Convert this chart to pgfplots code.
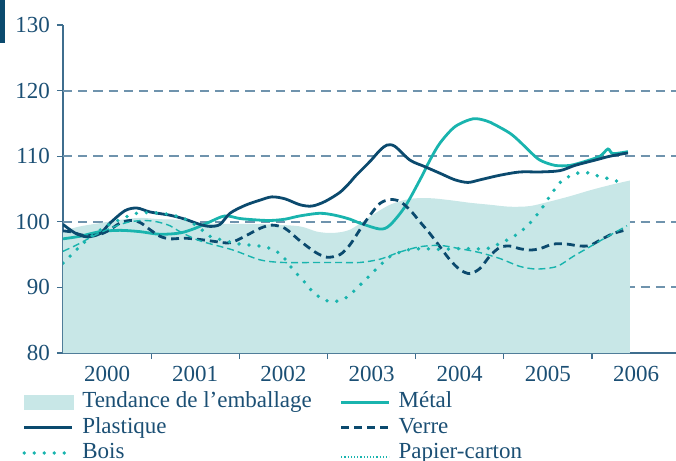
\documentclass[border=0pt]{standalone}
\usepackage{fontspec}
\setmainfont{Liberation Serif}
\usepackage{pgfplots}
\pgfplotsset{compat=1.18}
\definecolor{navy}{HTML}{0B4A6E}
\definecolor{teal2}{HTML}{19B4AE}
\definecolor{fillc}{HTML}{C8E7E7}
\definecolor{gridc}{HTML}{6F93AD}
\definecolor{axisc}{HTML}{3F6E8E}
\definecolor{textc}{HTML}{1B4F74}
\begin{document}
\begin{tikzpicture}
\path[use as bounding box] (-31.5pt,-54pt) rectangle (306.5pt,176.5pt);
\fill[navy] (-31.5pt,176.5pt) rectangle (-29pt,155pt);
\begin{axis}[
  at={(0,0)}, anchor=south west, scale only axis,
  width=306.5pt, height=164pt,
  xmin=0, xmax=6.953, ymin=80, ymax=130,
  axis x line=bottom, axis y line=left,
  axis line style={axisc, line width=0.6pt, -},
  tick align=outside,
  xtick={0.5,1.5,...,6.5}, xticklabels={2000,2001,2002,2003,2004,2005,2006},
  major x tick style={draw=none},
  minor xtick={1,2,3,4,5,6},
  minor tick length=3pt,
  minor x tick style={axisc, line width=0.6pt},
  ytick={80,90,...,130},
  major tick length=3pt,
  y tick style={axisc, line width=0.6pt},
  extra y ticks={90,100,110,120},
  extra y tick labels={},
  extra y tick style={grid=major, major tick length=0pt},
  major grid style={gridc, line width=1pt, dash pattern=on 4.6pt off 3pt},
  tick label style={font=\fontsize{11.5}{13}\selectfont, text=textc},
  /pgf/number format/assume math mode=true,
  legend columns=2,
  legend cell align=left,
  legend style={at={(-0.0669,-0.11)}, anchor=north west, draw=none, fill=none,
    inner sep=0pt, font=\fontsize{11.5}{13}\selectfont, text=textc,
    nodes={inner xsep=4pt, inner ysep=1.1pt, text height=8pt, text depth=2.5pt},
    /tikz/every even column/.append style={column sep=10pt}},
  legend image code/.code={\draw[#1] (0pt,0pt) -- (24pt,0pt);},
]
% Tendance de l'emballage (area)
\addplot[fill=fillc, draw=none, smooth,
  legend image code/.code={\fill[fillc] (0pt,-3.75pt) rectangle (25pt,3.75pt);}]
coordinates {
(0,98.6) (0.193,99.3) (0.420,99.8) (0.646,100.3) (0.873,100.6) (1.100,100.4)
(1.327,100.3) (1.554,99.8) (1.781,99.7) (2.007,99.7) (2.348,99.6) (2.688,99.3)
(2.881,98.5) (3.062,98.3) (3.255,98.8) (3.482,100.8) (3.709,102.6) (3.936,103.5)
(4.162,103.6) (4.389,103.3) (4.616,102.9) (4.843,102.6) (5.070,102.3) (5.297,102.4)
(5.523,103.1) (5.750,103.9) (5.977,104.8) (6.204,105.6) (6.431,106.3)} \closedcycle;
\addlegendentry{Tendance de l’emballage}
% Metal
\addplot[teal2, line width=1.4pt, smooth] coordinates {
(0,97.4) (0.193,97.8) (0.420,98.5) (0.646,98.7) (0.873,98.5) (1.100,98.1)
(1.327,98.3) (1.497,99.0) (1.667,100.0) (1.837,100.9) (2.007,100.5) (2.178,100.3)
(2.348,100.2) (2.518,100.4) (2.688,100.9) (2.915,101.3) (3.085,101.0) (3.255,100.4)
(3.368,99.8) (3.595,98.9) (3.709,99.5) (3.879,102.3) (4.049,106.4) (4.162,109.4)
(4.276,112.0) (4.446,114.5) (4.650,115.7) (4.800,115.4) (4.900,114.8) (5.070,113.5)
(5.183,112.2) (5.297,110.7) (5.410,109.4) (5.580,108.6) (5.750,108.6) (5.920,109.2)
(6.091,110.0) (6.181,111.1) (6.238,110.4) (6.408,110.7)};
\addlegendentry{Métal}
% Plastique
\addplot[navy, line width=1.4pt, smooth] coordinates {
(0,99.6) (0.136,98.3) (0.272,97.7) (0.420,98.2) (0.533,99.8) (0.703,101.7) (0.839,102.1)
(0.987,101.5) (1.214,101.0) (1.384,100.4) (1.554,99.6) (1.667,99.3) (1.781,99.6)
(1.894,101.3) (2.064,102.5) (2.234,103.3) (2.370,103.8) (2.518,103.5) (2.688,102.6)
(2.824,102.4) (2.972,103.1) (3.142,104.5) (3.255,106.0) (3.312,106.9) (3.482,109.2)
(3.595,110.9) (3.675,111.7) (3.765,111.5) (3.936,109.4) (4.106,108.4) (4.276,107.4)
(4.446,106.4) (4.593,106.0) (4.730,106.4) (4.956,107.1) (5.183,107.6) (5.410,107.6)
(5.637,107.8) (5.807,108.6) (6.034,109.4) (6.204,110.0) (6.408,110.5)};
\addlegendentry{Plastique}
% Verre
\addplot[navy, line width=1.4pt, dash pattern=on 4pt off 2.5pt, smooth] coordinates {
(0,98.6) (0.079,98.5) (0.250,97.9) (0.420,98.1) (0.533,98.8) (0.646,99.8) (0.760,100.2)
(0.873,99.9) (0.987,98.8) (1.100,97.8) (1.214,97.4) (1.384,97.5) (1.554,97.3)
(1.724,97.0) (1.894,96.8) (2.064,97.8) (2.234,99.0) (2.370,99.5) (2.518,99.0)
(2.688,97.1) (2.858,95.4) (2.994,94.6) (3.142,95.0) (3.255,96.5) (3.368,98.8)
(3.482,101.0) (3.595,102.8) (3.709,103.4) (3.822,103.1) (3.936,101.8) (4.049,100.0)
(4.162,98.2) (4.276,96.2) (4.389,94.2) (4.503,92.7) (4.616,92.1) (4.730,92.9)
(4.843,94.8) (4.956,96.1) (5.070,96.3) (5.183,95.9) (5.297,95.7) (5.410,95.9)
(5.557,96.6) (5.716,96.6) (5.864,96.3) (5.977,96.4) (6.091,97.2) (6.238,98.2) (6.397,98.8)};
\addlegendentry{Verre}
% Bois
\addplot[teal2, line width=1.9pt, line cap=round, dash pattern=on 0pt off 5pt, smooth] coordinates {
(0,93.7) (0.113,95.2) (0.227,96.7) (0.340,98.0) (0.454,99.0) (0.567,99.9) (0.680,100.5)
(0.794,101.2) (0.953,101.4) (1.100,101.3) (1.248,101.0) (1.406,100.3) (1.554,99.0)
(1.667,97.8) (1.781,97.3) (2.007,96.6) (2.234,96.3) (2.382,95.8) (2.495,94.7)
(2.609,92.7) (2.722,91.1) (2.835,89.3) (2.949,88.2) (3.062,87.8) (3.198,88.3)
(3.289,89.3) (3.425,91.1) (3.561,92.9) (3.709,94.7) (3.902,95.7) (4.083,95.9)
(4.276,95.8) (4.469,95.9) (4.650,95.9) (4.809,95.9) (4.956,96.7) (5.104,97.7)
(5.217,98.8) (5.331,100.3) (5.444,102.3) (5.557,104.6) (5.671,106.4) (5.830,107.4)
(5.943,107.5) (6.091,106.9) (6.238,106.4) (6.374,105.8)};
\addlegendentry{Bois}
% Papier-carton
\addplot[teal2, line width=0.7pt, dash pattern=on 3.5pt off 2pt, smooth,
  legend image code/.code={\draw[teal2, line width=0.6pt, dash pattern=on 0.6pt off 1pt] (0pt,-2pt) -- (24pt,-2pt);}]
coordinates {
(0,95.5) (0.159,96.5) (0.340,97.8) (0.533,99.0) (0.726,99.9) (0.907,100.2) (1.066,100.0)
(1.214,99.4) (1.327,98.5) (1.554,97.1) (1.928,95.7) (2.234,94.2) (2.495,93.8)
(2.881,93.8) (3.142,93.8) (3.368,93.8) (3.595,94.3) (3.822,95.4) (4.049,96.2)
(4.276,96.4) (4.503,95.9) (4.730,95.3) (4.956,94.4) (5.183,93.2) (5.376,92.8)
(5.603,93.2) (5.784,94.7) (5.977,96.2) (6.170,97.7) (6.397,99.4)};
\addlegendentry{Papier-carton}
\end{axis}
\end{tikzpicture}
\end{document}
